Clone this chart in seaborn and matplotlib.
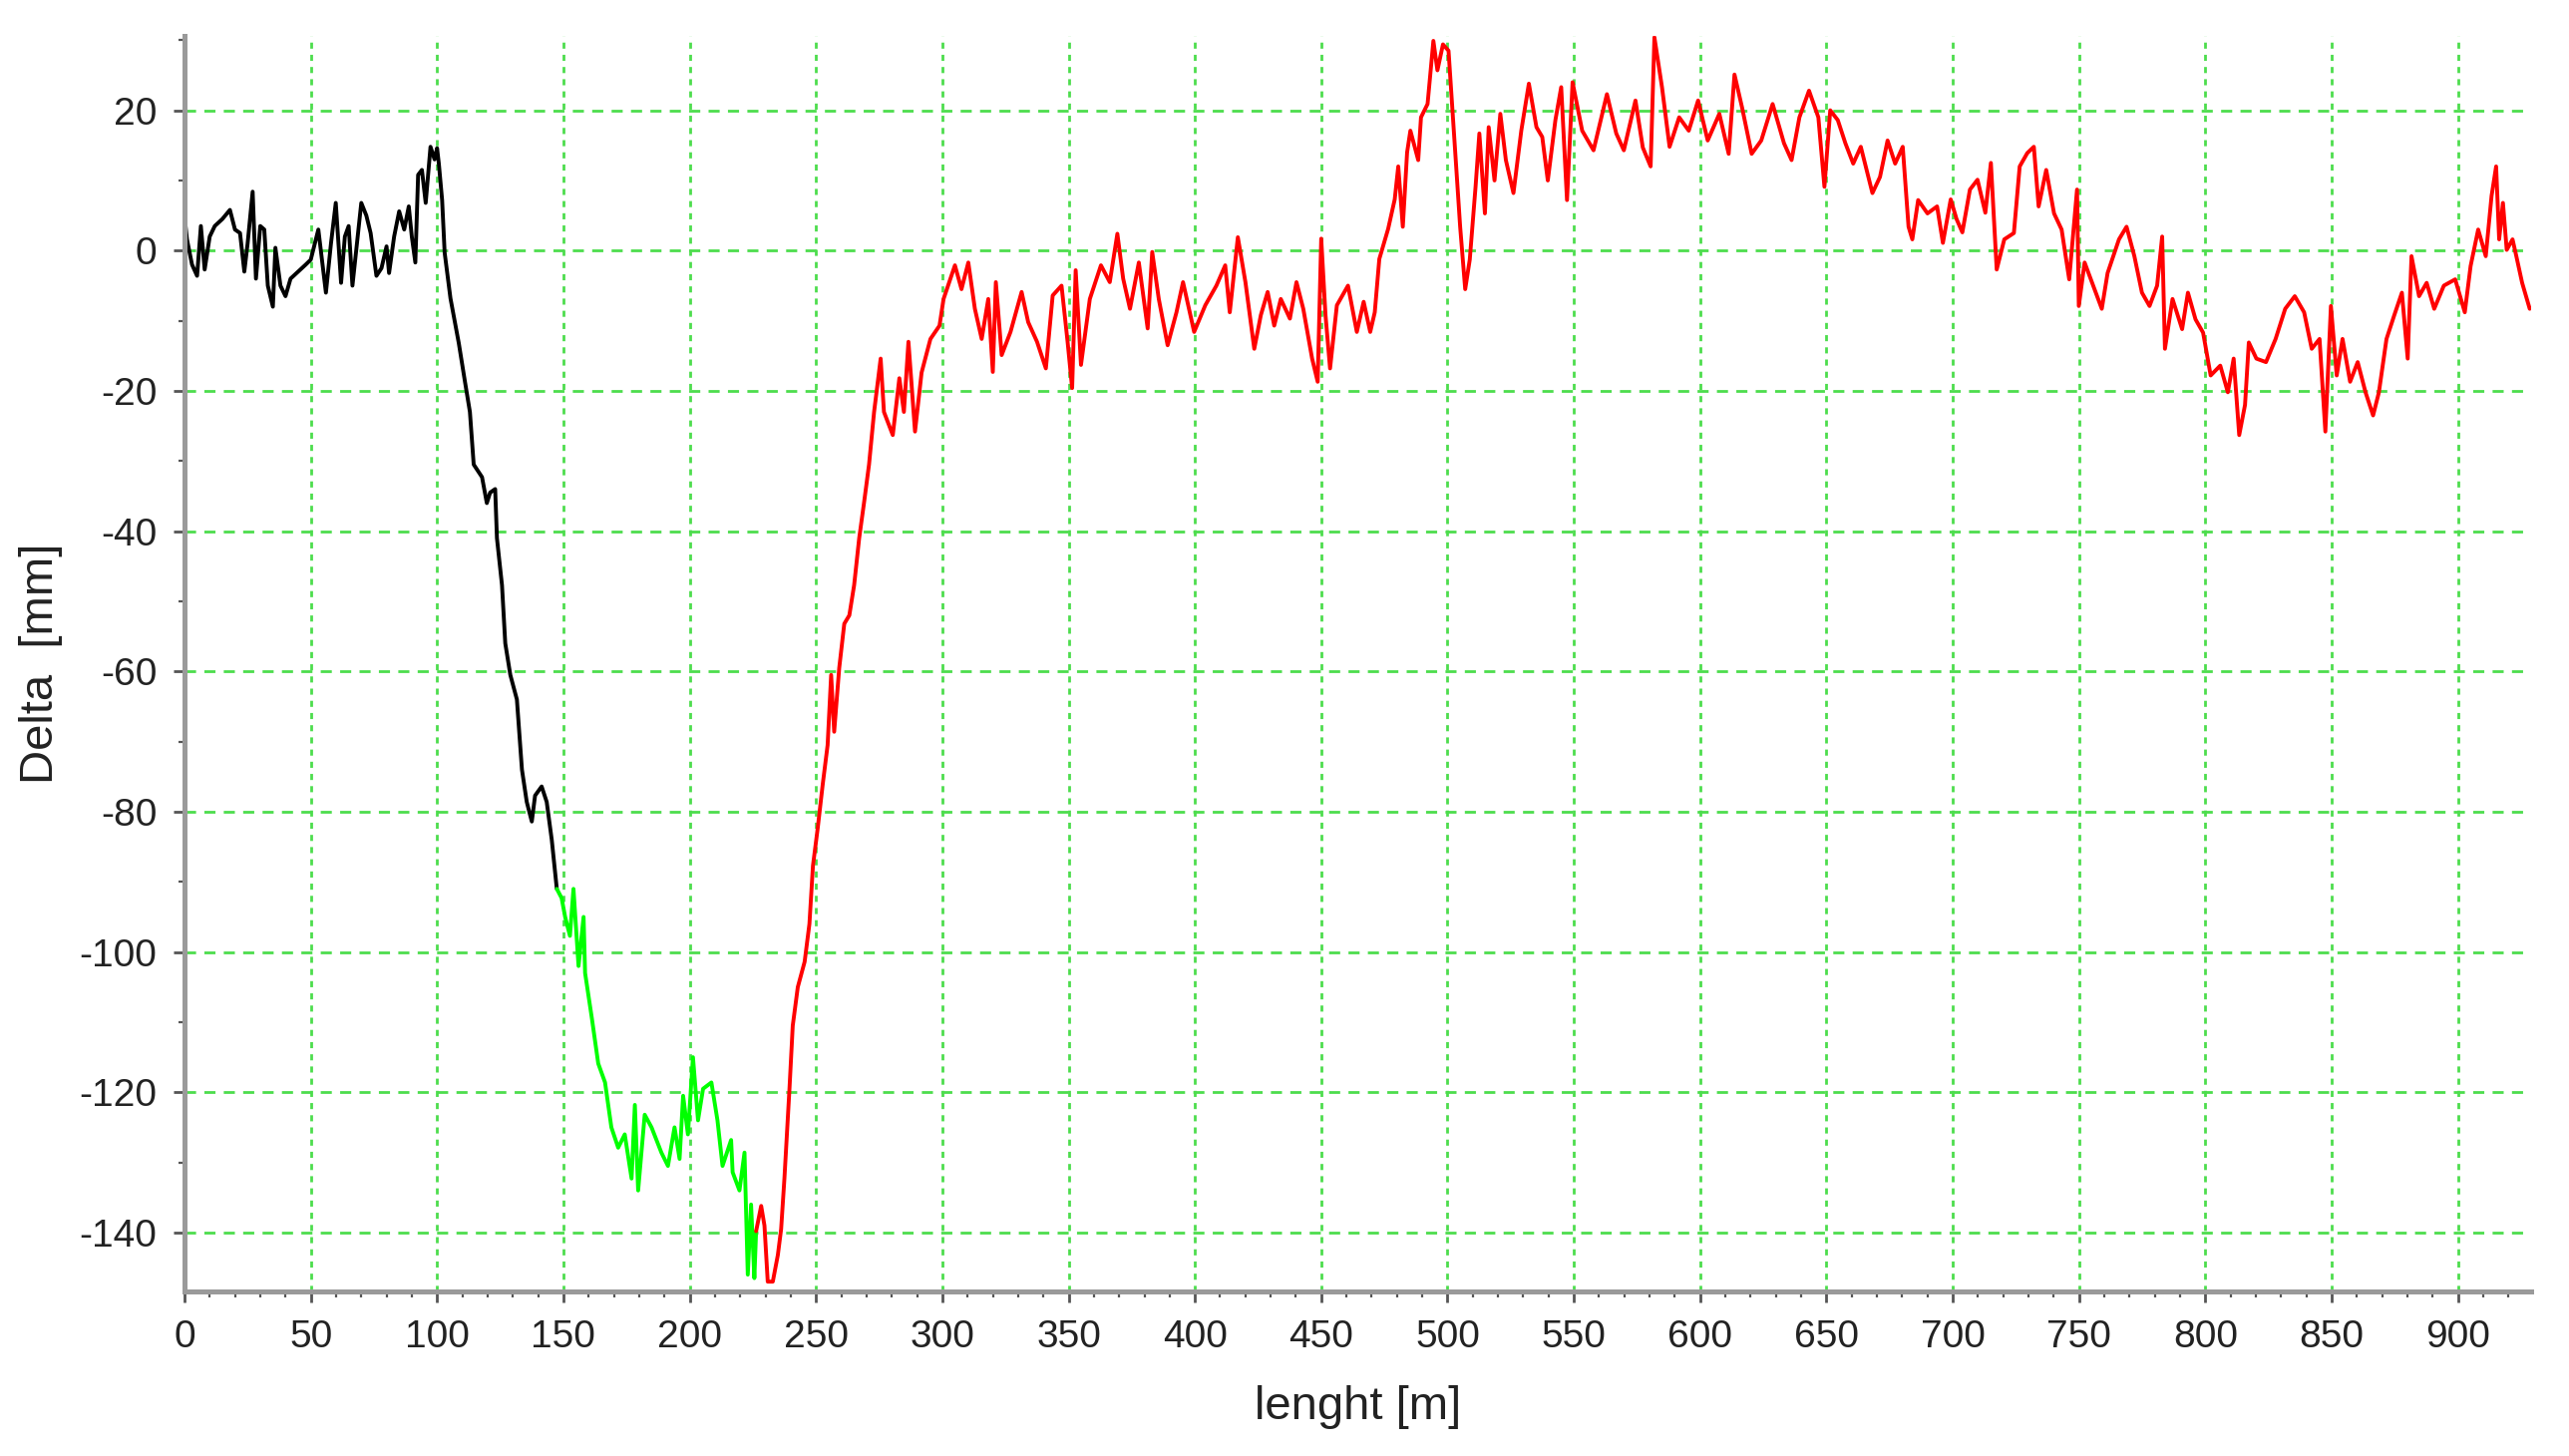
import numpy as np
import pandas as pd
import matplotlib
matplotlib.use("Agg")
import matplotlib.pyplot as plt
import seaborn as sns
from matplotlib.ticker import MultipleLocator

# ---------------- data ----------------
black_x = [0, 1, 3, 5, 6.5, 8, 10, 12, 15, 18,
           20, 22, 23.7, 25, 27, 28.3, 30, 31.6, 33, 35,
           36, 38, 40, 42, 45, 48, 50, 53, 56, 58,
           59.9, 62, 63.5, 65, 66.5, 70, 72, 73.7, 76, 78,
           80, 81, 83, 85, 87, 88.8, 90, 91.4, 92.5, 94,
           95.5, 97.4, 99, 100, 100.7, 102, 103, 105.3, 108.6, 111,
           113, 114.5, 117.8, 119.7, 121, 123, 123.7, 125.7, 127, 129,
           131.6, 133.6, 135.5, 137.5, 138.8, 141.4, 143.4, 145.4, 147.4]
black_y = [5, 1.6, -2, -3.6, 3.5, -2.7, 2, 3.5, 4.5, 5.8,
           3, 2.5, -3, 1, 8.4, -4, 3.5, 3.0, -5, -8,
           0.4, -5, -6.5, -4, -3, -2, -1.3, 3, -6, 1,
           6.8, -4.6, 2, 3.5, -5, 6.8, 5, 2.5, -3.6, -2.5,
           0.6, -3.2, 2, 5.6, 3, 6.3, 2, -1.7, 10.8, 11.5,
           6.8, 14.8, 13, 14.6, 12.4, 7.2, -0.3, -6.8, -13.2, -18.6,
           -23, -30.5, -32.3, -36, -34.5, -34, -41, -47.7, -56, -60.5,
           -64, -74, -78.6, -81.4, -77.7, -76.4, -78.6, -84, -91]

green_x = [147.4, 149.3, 150.7, 152.6, 154, 156, 158, 158.6, 161.3, 163.8,
           166.5, 169, 171.7, 174.3, 177, 178.3, 179.6, 182.2, 184.9, 188.8,
           191.4, 194, 196, 197.4, 199.3, 201.3, 203.3, 205.3, 208.6, 211,
           213, 216.4, 217, 219.7, 221.7, 223, 224.3, 225.6, 226.3]
green_y = [-91, -92.3, -95, -97.7, -91, -102, -95, -103, -109.5, -115.9,
           -118.6, -125, -127.9, -126, -132.3, -121.8, -134, -123.2, -125, -128.6,
           -130.5, -125, -129.5, -120.5, -126, -115, -124, -119.5, -118.6, -124,
           -130.5, -126.8, -131.4, -134, -128.6, -146, -136, -146.5, -139.8]

red_x = [226.3, 228.3, 229.6, 230.9, 232.9, 234.9, 236.2, 237.5, 239.5, 240.8,
         242.8, 245.5, 247.4, 248.8, 250.7, 252.7, 254.6, 256, 257.2, 259.2,
         261.2, 263.2, 265.1, 267.1, 269, 271, 273, 275.6, 276.9, 280.4,
         283, 284.8, 286.6, 289.2, 291.8, 295.3, 298.9, 300.5, 305, 307.6,
         310.3, 312.9, 315.6, 318.2, 320, 321.2, 323.5, 327, 331.4, 334,
         337.5, 341, 343.7, 347.2, 349.6, 351.4, 352.8, 354.9, 358.4, 362.8,
         366.3, 369.3, 371.6, 374.3, 377.8, 381.3, 383.1, 385.7, 389.2, 392.7,
         395.3, 399.7, 404.1, 408.5, 412, 413.8, 417, 420, 423.5, 426.1,
         428.8, 431.4, 434, 437.6, 440.2, 442.9, 446.4, 448.6, 450, 451.7,
         453.5, 456.2, 460.6, 464.1, 466.8, 469.4, 471.2, 473, 476.5, 479.1,
         480.5, 482.3, 484, 485.3, 488.4, 489.5, 492.1, 494.4, 496, 498.2,
         500.4, 501.7, 503.5, 505, 507, 508.8, 511.1, 512.6, 514.8, 516.3,
         518.6, 520.9, 523.1, 526.1, 529.2, 532.2, 535.2, 537.5, 539.7, 542.7,
         545, 547.3, 549.5, 553.3, 557.8, 563.1, 566.8, 569.8, 574.4, 577.3,
         580.4, 581.9, 584.9, 587.9, 591.7, 595.5, 599.2, 603, 607.6, 611.3,
         613.6, 616.6, 620.4, 624.2, 628.7, 633.2, 636.2, 639.3, 643.1, 646.8,
         649.2, 651.5, 654.5, 657.5, 660.6, 663.6, 668.2, 671.2, 674.2, 677.2,
         680.2, 682.5, 684, 686.3, 690, 693.8, 696.1, 699.2, 701.5, 703.8,
         706.8, 709.8, 712.9, 715.1, 717.4, 720.4, 724.2, 726.5, 729.5, 732.1,
         734, 737, 740.1, 743.1, 746.1, 749.2, 749.9, 752.2, 755.2, 759,
         761.3, 765.8, 768.8, 771.9, 774.9, 777.9, 780.9, 782.9, 784, 787,
         790.8, 793.1, 796.1, 799.1, 802.1, 805.9, 808.9, 811.2, 813.4, 815.7,
         817.2, 820.2, 824, 827.8, 831.6, 835.4, 839.1, 842.1, 845.2, 847.5,
         849.7, 852, 854.3, 857.3, 860.3, 863.4, 866.4, 868.7, 871.7, 874.7,
         877.8, 880.1, 881.6, 884.6, 887.6, 890.6, 894.4, 898.9, 902.7, 905,
         908, 911, 913.3, 915.1, 916.3, 917.8, 919.3, 921.6, 923.1, 925.4,
         928.4]
red_y = [-139.8, -136.2, -139, -147, -147, -143.2, -139.5, -132.3, -119.5, -110.5,
         -105, -101.4, -96, -87.7, -82.3, -76, -70.5, -60.5, -68.6, -59.5,
         -53.2, -52, -47.7, -41, -36, -30.5, -23, -15.4, -23, -26.3,
         -18.2, -23, -13, -25.8, -17.4, -12.6, -10.7, -6.9, -2.1, -5.5,
         -1.7, -8.3, -12.6, -6.9, -17.3, -4.5, -14.9, -11.6, -5.9, -10.2,
         -13, -16.8, -6.4, -5, -13, -19.6, -2.8, -16.3, -6.9, -2.1,
         -4.5, 2.4, -4, -8.3, -1.7, -11.1, -0.2, -6.9, -13.5, -8.8,
         -4.5, -11.6, -7.8, -5, -2.1, -8.8, 1.9, -4.5, -14, -9.2,
         -5.9, -10.7, -6.9, -9.7, -4.5, -8.3, -15.4, -18.7, 1.7, -9.2,
         -16.8, -7.8, -5, -11.6, -7.3, -11.6, -8.8, -1.2, 3.1, 7.3,
         12, 3.4, 14, 17.1, 12.9, 19, 20.9, 29.9, 25.7, 29.4,
         28.5, 21.4, 11.5, 3.4, -5.5, -1.3, 9.1, 16.7, 5.3, 17.6,
         10, 19.5, 12.9, 8.2, 17.1, 23.8, 17.6, 16.2, 10, 18.6,
         23.3, 7.2, 24, 17.1, 14.3, 22.3, 16.7, 14.3, 21.4, 14.7,
         12, 30.4, 23.3, 14.8, 19, 17.1, 21.4, 15.7, 19.5, 13.8,
         25.1, 20.4, 13.8, 15.7, 20.9, 15.3, 12.9, 19, 22.8, 19,
         9.1, 20, 18.6, 15.3, 12.4, 14.8, 8.2, 10.5, 15.7, 12.4,
         14.8, 3.4, 1.6, 7.2, 5.3, 6.3, 1.1, 7.3, 4.5, 2.6,
         8.7, 10.1, 5.4, 12.5, -2.7, 1.6, 2.5, 12, 13.9, 14.8,
         6.3, 11.5, 5.3, 3, -4.1, 8.7, -7.9, -1.7, -4.6, -8.3,
         -3.2, 1.6, 3.4, -0.8, -6, -7.9, -5, 2, -14, -6.9,
         -11.2, -6, -9.8, -11.7, -17.8, -16.4, -20.2, -15.4, -26.3, -22,
         -13.1, -15.4, -15.9, -12.6, -8.3, -6.5, -8.8, -14, -12.6, -25.8,
         -7.9, -17.8, -12.6, -18.7, -15.9, -20.2, -23.5, -20.2, -12.6, -9.3,
         -6, -15.4, -0.8, -6.5, -4.6, -8.3, -5, -4.1, -8.8, -2.2,
         3, -0.8, 7.8, 12, 1.6, 6.8, 0.1, 1.6, -0.8, -4.6,
         -8.3]

segment_names = ["black", "green", "red"]
segment_colors = {"black": "#000000", "green": "#00ff00", "red": "#ff0000"}

x_label = "lenght [m]"
y_label = "Delta  [mm]"

# ---------------- build table ----------------
frames = []
for name, xs, ys in zip(segment_names, [black_x, green_x, red_x], [black_y, green_y, red_y]):
    frames.append(pd.DataFrame({"x": xs, "y": ys, "segment": name}))
df = pd.concat(frames, ignore_index=True)

# ---------------- plot ----------------
sns.set_theme(style="white")
plt.rcParams["font.family"] = ["Liberation Sans", "DejaVu Sans"]
plt.rcParams["axes.unicode_minus"] = False

fig = plt.figure(figsize=(12.88, 7.30), dpi=200)
ax = fig.add_axes([0.0718, 0.113, 0.9135, 0.8623])

sns.lineplot(data=df, x="x", y="y", hue="segment", palette=segment_colors,
             units="segment", estimator=None, sort=False, legend=False,
             linewidth=1.4, ax=ax)

ax.set_xlim(0, 929)
ax.set_ylim(-148.4, 30.6)

ax.xaxis.set_major_locator(MultipleLocator(50))
ax.xaxis.set_minor_locator(MultipleLocator(10))
ax.yaxis.set_major_locator(MultipleLocator(20))
ax.yaxis.set_minor_locator(MultipleLocator(10))

grid_color = "#4ddd4d"
ax.xaxis.grid(True, which="major", color=grid_color, linestyle=(0, (2.2, 2.2)), linewidth=1.0)
ax.yaxis.grid(True, which="major", color=grid_color, linestyle=(0, (4, 3)), linewidth=1.0)
ax.set_axisbelow(True)

for side in ["top", "right"]:
    ax.spines[side].set_visible(False)
for side in ["left", "bottom"]:
    ax.spines[side].set_color("#9a9a9a")
    ax.spines[side].set_linewidth(1.8)

ax.tick_params(axis="both", which="major", direction="out", length=4, width=1.0,
               color="#555555", labelsize=14, labelcolor="#222222", pad=6,
               bottom=True, left=True)
ax.tick_params(axis="both", which="minor", direction="out", length=2.2, width=0.8,
               color="#555555", bottom=True, left=True)

ax.set_xlabel(x_label, fontsize=17, color="#222222", labelpad=11)
ax.set_ylabel(y_label, fontsize=17, color="#222222", labelpad=6)

fig.savefig("out.png", dpi=200)
